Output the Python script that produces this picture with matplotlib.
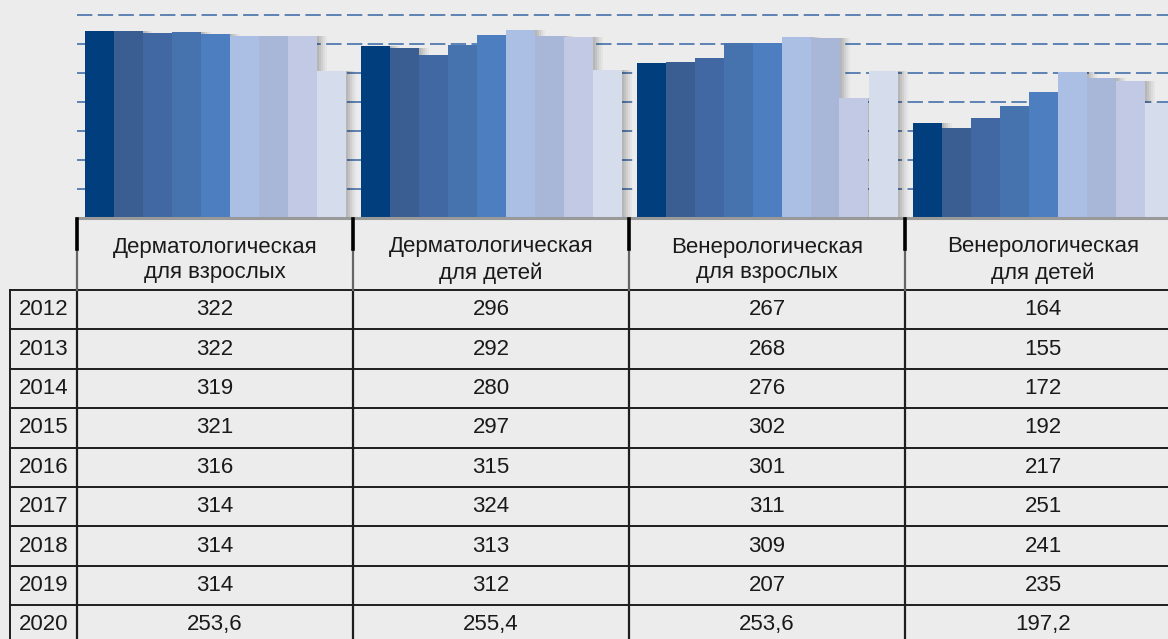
import numpy as np
import matplotlib
matplotlib.use("Agg")
import matplotlib.pyplot as plt

# data
years = ["2012", "2013", "2014", "2015", "2016", "2017", "2018", "2019", "2020"]
categories = ["Дерматологическая\nдля взрослых", "Дерматологическая\nдля детей",
              "Венерологическая\nдля взрослых", "Венерологическая\nдля детей"]
derm_adult = [322, 322, 319, 321, 316, 314, 314, 314, 253.6]
derm_child = [296, 292, 280, 297, 315, 324, 313, 312, 255.4]
vener_adult = [267, 268, 276, 302, 301, 311, 309, 207, 253.6]
vener_child = [164, 155, 172, 192, 217, 251, 241, 235, 197.2]
series = [derm_adult, derm_child, vener_adult, vener_child]

year_colors = ["#003e7d", "#3a5d92", "#4168a2", "#4673ae", "#4d7ebf",
               "#abbee4", "#a8b6d8", "#c1c9e4", "#d5dcec"]

plt.rcParams['font.family'] = ['Liberation Sans', 'DejaVu Sans']

W, H = 1168, 639
bg = "#ececec"
cat_px = 276          # width of one category column, px
x0_px = 77            # left edge of first category, px
base_px = 217.7       # baseline of bars, px from top
plot_h = 203          # 0..350 in px

fig = plt.figure(figsize=(W / 100, H / 100), dpi=100, facecolor=bg)

# bar chart
ax = fig.add_axes([x0_px / W, 1 - base_px / H, 4 * cat_px / W, plot_h / H])
ax.set_facecolor(bg)
ax.set_xlim(-0.5, 3.5)
ax.set_ylim(0, 350)
for s in ax.spines.values():
    s.set_visible(False)
ax.set_xticks([])
ax.set_yticks([])

for yv in np.arange(50, 351, 50):
    ax.axhline(yv, color="#5279ad", lw=1.3, ls=(0, (8.5, 3)), zorder=0.5,
               clip_on=False)

n = len(years)
group_w = 261 / cat_px
bw = group_w / n
px = 1 / cat_px
x = np.arange(len(categories))
for i in range(n):
    vals = [s[i] for s in series]
    xpos = x - group_w / 2 + bw * (i + 0.5)
    # soft shadow
    for k, a in [(10, 0.03), (8, 0.04), (6, 0.05), (4, 0.06), (2, 0.06)]:
        ax.bar(xpos + k * px, vals, width=bw, color="black", alpha=a,
               lw=0, zorder=1)
    ax.bar(xpos, vals, width=bw, color=year_colors[i], lw=0, zorder=3)

ax.axhline(0, color="#999999", lw=2.2, zorder=4, clip_on=False)

# table under the chart
tab_top = 219
head_h = 71
row_h = 39.4
tab = fig.add_axes([x0_px / W, 0, 4 * cat_px / W, 1 - tab_top / H])
tab.set_facecolor("none")
tab.set_xlim(-0.5, 3.5)
tab.set_ylim(H - tab_top, 0)
tab.axis("off")

x_left = -0.5 + (10 - x0_px) / cat_px
year_cx = -0.5 + (43.5 - x0_px) / cat_px
bottom = (H - tab_top) + 20
fs = 16

for k in range(n + 1):
    yy = head_h + k * row_h
    tab.plot([x_left, 3.5], [yy, yy], color="#1e1e1e", lw=1.4, clip_on=False)

for b in np.arange(-0.5, 3.6, 1.0):
    tab.plot([b, b], [head_h, bottom], color="#1e1e1e", lw=1.6, clip_on=False)
    tab.plot([b, b], [30, head_h], color="#666666", lw=1.6, clip_on=False)
    tab.plot([b, b], [0, 30], color="black", lw=2.6, clip_on=False)
tab.plot([x_left, x_left], [head_h, bottom], color="#1e1e1e", lw=1.4, clip_on=False)

for j, cat in enumerate(categories):
    tab.text(j, 41, cat, ha="center", va="center", fontsize=fs,
             color="#1a1a1a", linespacing=1.3)


def fmt(v):
    if float(v).is_integer():
        return str(int(v))
    return f"{v:.1f}".replace(".", ",")


for i, yr in enumerate(years):
    cy = head_h + (i + 0.5) * row_h
    tab.text(year_cx, cy, yr, ha="center", va="center", fontsize=fs,
             color="#1a1a1a", clip_on=False)
    for j, s in enumerate(series):
        tab.text(j, cy, fmt(s[i]), ha="center", va="center", fontsize=fs,
                 color="#1a1a1a")

fig.savefig("out.png", dpi=100, facecolor=bg)
